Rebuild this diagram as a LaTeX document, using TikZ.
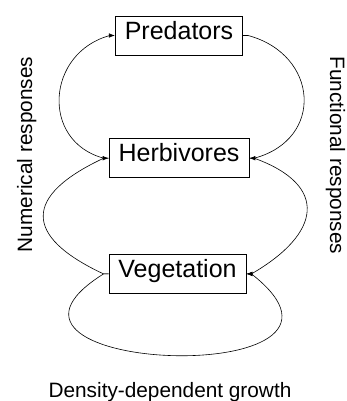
\documentclass[tikz,border=0pt]{standalone}
\usepackage{fontspec}
\setmainfont{Liberation Sans}
\usetikzlibrary{arrows.meta, positioning}

\begin{document}
\begin{tikzpicture}[
  x=1pt, y=1pt,
  box/.style={draw, rectangle, line width=0.7pt, minimum height=39pt,
              inner xsep=9.5pt, text height=0.716em, text depth=0pt,
              font=\fontsize{25}{30}\selectfont},
  lbl/.style={anchor=base, inner sep=0pt, font=\fontsize{20.8}{25}\selectfont},
  arr/.style={-{Latex[length=6pt, width=4.5pt]}, line width=0.6pt}
]
  \useasboundingbox (0,0) rectangle (347,401);

  \node[box] (pred) at (179,365.5) {Predators};
  \node[box, below=83pt of pred] (herb) {Herbivores};
  \node[box, below=76pt of herb, xshift=-1.5pt] (veg) {Vegetation};

  \node[lbl, rotate=90]  (num) at (32,246.5)  {Numerical responses};
  \node[lbl, rotate=-90] (fun) at (330,245.5) {Functional responses};
  \node[lbl] (dens) at (170,3.5) {Density-dependent growth};

  % numerical responses (left)
  \draw[arr] (herb.west) -- ++(-5,0) to[out=165, in=195, looseness=1.37]
    ([xshift=-5pt]pred.west) -- (pred.west);
  \draw[arr] (veg.west) -- ++(-5,0) to[out=155, in=205, looseness=1.97]
    ([xshift=-5pt]herb.west) -- (herb.west);
  % functional responses (right)
  \draw[arr] (pred.east) -- ++(5,0) to[out=-15, in=15, looseness=1.52]
    ([xshift=5pt]herb.east) -- (herb.east);
  \draw[arr] (herb.east) -- ++(5,0) to[out=-20, in=30, looseness=1.77]
    ([xshift=5pt]veg.east) -- (veg.east);
  % density-dependent growth
  \draw[arr] (veg.west) -- ++(-5,0) to[out=212, in=322, looseness=3.3]
    ([xshift=5pt]veg.east) -- (veg.east);
\end{tikzpicture}
\end{document}
